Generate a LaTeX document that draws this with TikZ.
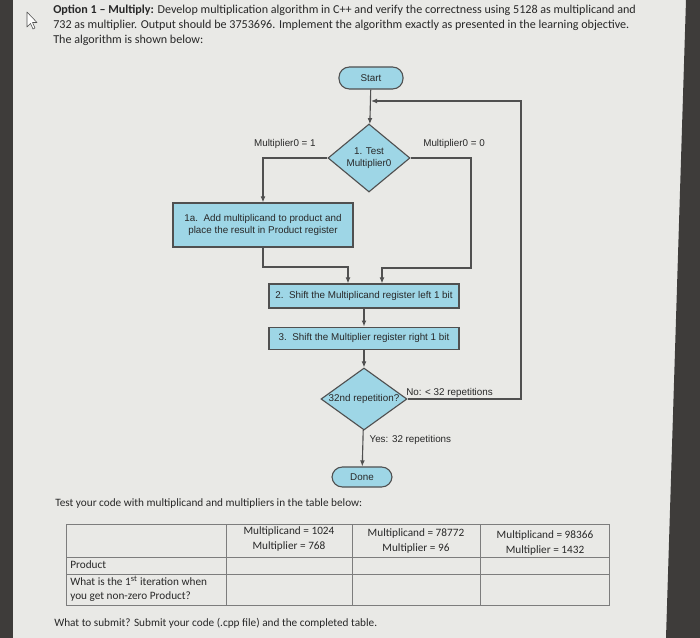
\documentclass[tikz,border=0pt]{standalone}
\usepackage{fontspec}
\setmainfont{Carlito}
\newfontfamily\chartfont{Liberation Sans}
\usetikzlibrary{arrows.meta, positioning, shapes.geometric}
\definecolor{paper}{RGB}{233,233,230}
\definecolor{bezel}{RGB}{62,60,58}
\definecolor{ink}{RGB}{40,40,40}
\definecolor{wire}{RGB}{80,80,80}
\definecolor{boxblue}{RGB}{158,214,230}
\definecolor{rule}{RGB}{125,125,125}

\begin{document}
\begin{tikzpicture}[
    x=0.025cm, y=-0.025cm,
    >={Latex[length=1.5mm,width=1.2mm]},
    every node/.style={text=ink},
    txt/.style  ={font=\fontsize{8}{10}\selectfont, inner sep=0pt},
    head/.style ={font=\fontsize{8.6}{10}\selectfont, inner sep=0pt},
    chart/.style={font=\chartfont\fontsize{7}{8.6}\selectfont},
    term/.style ={chart, draw=wire, fill=boxblue, thick, rounded corners=2.6mm,
                  minimum width=1.6cm, minimum height=0.55cm, inner sep=1pt},
    proc/.style ={chart, draw=wire, fill=boxblue, thick, align=center,
                  minimum height=0.6cm, inner sep=1pt},
    test/.style ={chart, draw=wire, fill=boxblue, thick, diamond, align=center,
                  inner sep=0pt},
    flow/.style ={->, thick, wire},
    cell/.style ={txt, align=center},
]
% screen and bezel
\fill[paper] (0,0) rectangle (700,638);
\fill[bezel] (0,0) rectangle (13,638);
\fill[bezel] (686,0) -- (700,0) -- (700,638) -- (666,638) -- cycle;
\draw[wire, fill=white!90!paper, line join=round]
  (27,12) -- (27,27) -- (30.5,23.5) -- (33,29) -- (35,28) -- (32.5,22.5) -- (37,22.5) -- cycle;

% task text
\node[head, anchor=west] (task1) at (53,10)
  {\textbf{Option 1 -- Multiply:} Develop multiplication algorithm in C++ and verify the correctness using 5128 as multiplicand and};
\node[head, anchor=west] (task2) at (53,25)
  {732 as multiplier. Output should be 3753696. Implement the algorithm exactly as presented in the learning objective.};
\node[head, anchor=west] (task3) at (53,40) {The algorithm is shown below:};

% flowchart
\node[term] (start) at (371,78) {Start};
\node[test, minimum width=2.05cm, minimum height=1.7cm] (mtest) at (369,158)
  {1. Test\\Multiplier0};
\node[proc, minimum width=4.5cm, minimum height=1.1cm] (add) at (263,225)
  {1a.\ \ Add multiplicand to product and\\place the result in Product register};
\node[proc, minimum width=4.75cm] (shl) at (364,296)
  {2.\ \ Shift the Multiplicand register left 1 bit};
\node[proc, minimum width=4.75cm, minimum height=0.55cm, below=4.5mm of shl] (shr)
  {3.\ \ Shift the Multiplier register right 1 bit};
\node[test, minimum width=2.15cm, minimum height=1.55cm,
      label={[chart, inner sep=0pt]center:32nd repetition?}] (rep) at (364,399) {};
\node[term, minimum width=1.5cm, minimum height=0.5cm] (done) at (362,477) {Done};

\coordinate (joinL) at (348,267);
\coordinate (turnR) at (471,268);
\coordinate (joinR) at (382,268);
\coordinate (loopB) at (521,399);
\coordinate (loopT) at (521,101);

\draw[flow] (start) -- (mtest);
\draw[flow] (mtest.west) -| node[chart, above=3pt, pos=0.33]{Multiplier0 = 1} (add.north);
\draw[flow] (mtest.east) -| node[chart, above=3pt, pos=0.36]{Multiplier0 = 0} (turnR)
  -- (joinR) -- (joinR |- shl.north);
\draw[flow] (add.south) |- (joinL) -- (joinL |- shl.north);
\draw[flow] (shl) -- (shr);
\draw[flow] (shr) -- (rep);
\draw[flow] (rep.east) -- node[chart, above, inner sep=0.5pt, pos=0.37]{No: < 32 repetitions} (loopB)
  -- (loopT) -- (loopT -| start.south);
\draw[flow] (rep) -- node[chart, right=1pt, pos=0.28]{Yes: 32 repetitions} (done);

% test table
\node[txt, anchor=west] (ask) at (55,503)
  {Test your code with multiplicand and multipliers in the table below:};
\draw[rule] (66,524) rectangle (609,605);
\draw[rule] (66,557) -- (226,557);
\draw[rule] (66,574) -- (609,574);
\draw[rule] (226,557) -- (609,557);
\foreach \cx in {226,352,480} \draw[rule] (\cx,524) -- (\cx,605);
\node[cell] (c1) at (289,539) {Multiplicand = 1024\\Multiplier = 768};
\node[cell] (c2) at (416,541) {Multiplicand = 78772\\Multiplier = 96};
\node[cell] (c3) at (545,543) {Multiplicand = 98366\\Multiplier = 1432};
\node[txt, anchor=west] (rprod) at (70,565) {Product};
\node[txt, anchor=west, align=left] (rfirst) at (70,589)
  {What is the 1\textsuperscript{st} iteration when\\you get non-zero Product?};

\node[txt, anchor=west] (submit) at (54,623)
  {What to submit? Submit your code (.cpp file) and the completed table.};
\end{tikzpicture}
\end{document}
